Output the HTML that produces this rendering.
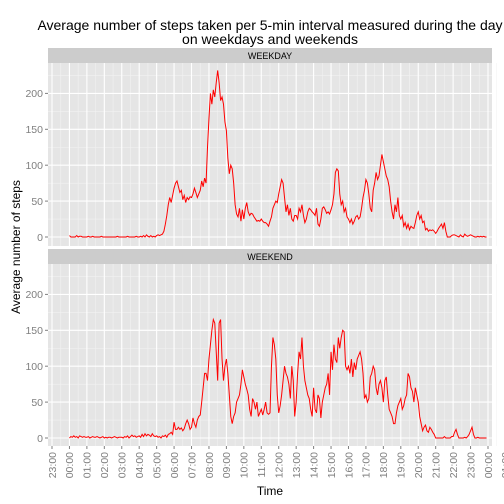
<!DOCTYPE html>
<html><head><meta charset="utf-8"><style>
html,body{margin:0;padding:0;background:#fff}
svg{display:block;font-family:"Liberation Sans",sans-serif}
</style></head><body>
<svg id="c" width="504" height="504" xmlns="http://www.w3.org/2000/svg">
<text x="270" y="30" text-anchor="middle" font-size="14" fill="#000">Average number of steps taken per 5-min interval measured during the day</text>
<text x="270" y="44" text-anchor="middle" font-size="14" fill="#000">on weekdays and weekends</text>
<text x="270" y="495" text-anchor="middle" font-size="12" fill="#000">Time</text>
<text transform="translate(20,247) rotate(-90)" text-anchor="middle" font-size="12" fill="#000">Average number of steps</text>
<g id="panels"></g>
</svg>
<script>
const facets = ["WEEKDAY","WEEKEND"];
const yTicks = [0,50,100,150,200];
const xTickLabels = ["23:00","00:00","01:00","02:00","03:00","04:00","05:00","06:00","07:00","08:00","09:00","10:00","11:00","12:00","13:00","14:00","15:00","16:00","17:00","18:00","19:00","20:00","21:00","22:00","23:00","00:00","01:00"];
const weekday = [
2,0,0,0,0,2,0,1,1,0,0,0,
0,1,0,0,1,0,0,0,0,0,1,0,
0,0,0,0,0,0,0,0,0,1,0,0,
0,0,0,0,1,0,0,0,0,0,1,0,
0,1,0,2,0,3,1,0,2,0,1,0,
2,3,2,3,4,8,18,30,45,55,48,58,
68,75,78,70,62,65,52,58,48,55,52,56,
55,60,68,62,55,60,65,78,70,82,75,125,
165,200,185,205,195,215,232,215,190,195,185,160,
148,110,88,100,95,75,45,32,28,40,22,38,
25,40,48,35,30,33,32,28,25,22,23,22,
25,22,20,20,18,15,22,28,40,45,50,48,
60,70,80,75,55,35,45,30,40,25,22,30,
30,25,40,35,45,30,20,25,35,40,38,35,
33,30,40,18,15,25,40,42,38,33,35,32,
38,45,60,90,95,92,60,45,50,35,40,28,
25,20,25,18,22,28,30,25,28,40,55,65,
80,75,60,40,35,65,75,90,80,85,100,115,
105,95,85,80,70,50,35,25,45,35,55,30,
25,30,15,20,12,18,10,15,13,12,20,30,
35,25,30,20,22,10,12,8,10,9,10,8,
5,8,12,15,18,12,20,8,0,0,0,2,
3,3,2,1,0,3,1,0,4,2,1,2,
3,2,1,0,0,1,0,1,0,1,0,0];
const weekend = [
0,2,1,3,1,2,0,3,2,1,2,1,
1,2,0,1,2,1,1,2,1,0,1,2,
0,1,0,1,1,0,1,2,1,0,1,1,
1,0,2,1,3,0,2,4,2,3,1,2,
3,1,5,2,6,3,5,4,2,6,3,2,
3,1,2,0,3,2,4,1,5,6,8,5,
22,12,12,15,12,14,10,13,20,25,20,12,
15,28,20,15,25,30,32,50,70,90,90,80,
110,130,150,165,160,120,80,160,165,110,80,100,
110,90,60,30,20,30,35,50,55,60,75,95,
85,75,68,60,40,30,55,50,40,50,30,35,
40,32,40,50,35,33,35,100,140,130,110,60,
35,45,60,80,100,90,85,75,55,100,80,30,
50,90,120,110,140,100,80,70,60,55,40,30,
70,40,35,60,55,28,50,60,70,75,90,60,
120,95,130,110,105,140,125,140,150,148,100,95,
100,90,110,85,105,95,110,115,120,110,90,55,
60,50,55,85,90,100,95,70,60,75,80,70,
50,80,85,60,40,35,30,20,20,35,45,50,
55,40,45,55,60,90,85,70,65,50,70,60,
50,30,20,10,15,18,10,8,15,12,8,5,
0,0,0,0,0,0,2,0,0,0,0,2,
2,8,12,5,0,0,0,0,1,0,2,5,
10,15,5,0,0,1,0,0,0,0,0,0];
const series = [weekday, weekend];

const NS="http://www.w3.org/2000/svg";
const g=document.getElementById('panels');
const PX0=48, PX1=492;
const tick0=52, tickStep=17.44;
function xScale(i){return tick0+tickStep+i*tickStep/12;}
function mk(tag,attrs,parent){const e=document.createElementNS(NS,tag);for(const k in attrs)e.setAttribute(k,attrs[k]);(parent||g).appendChild(e);return e;}
const panelTops=[63,264], panelBots=[246,446], zeroY=[237,438];
const k=0.718;
facets.forEach((f,p)=>{
  const top=panelTops[p], bot=panelBots[p];
  const yS=v=>zeroY[p]-v*k;
  const strip=mk('rect',{x:PX0,y:top-15,width:PX1-PX0,height:15,fill:'#cccccc'});
  
  
  const st=mk('text',{x:(PX0+PX1)/2,y:top-4,'text-anchor':'middle','font-size':'9',fill:'#000'});
  st.textContent=f;
  
  
  const bg=mk('rect',{x:PX0,y:top,width:PX1-PX0,height:bot-top,fill:'#e5e5e5'});
  
  
  for(let v=25;v<=225;v+=50){const y=yS(v);if(y>top)mk('line',{x1:PX0,x2:PX1,y1:y,y2:y,stroke:'#f2f2f2','stroke-width':0.6});}
  for(let t=0;t<xTickLabels.length-1;t++){const x=tick0+(t+0.5)*tickStep;mk('line',{x1:x,x2:x,y1:top,y2:bot,stroke:'#f2f2f2','stroke-width':0.6});}
  yTicks.forEach(v=>{const y=yS(v);mk('line',{x1:PX0,x2:PX1,y1:y,y2:y,stroke:'#fff','stroke-width':1.1});
    mk('line',{x1:PX0-3,x2:PX0,y1:y,y2:y,stroke:'#7f7f7f','stroke-width':1});
    const t=mk('text',{x:PX0-5,y:y+3.8,'text-anchor':'end','font-size':'10.5',fill:'#7f7f7f'});t.textContent=v;
    
    });
  xTickLabels.forEach((l,t)=>{const x=tick0+t*tickStep;mk('line',{x1:x,x2:x,y1:top,y2:bot,stroke:'#fff','stroke-width':1.1});});
  const pts=series[p].map((v,i)=>xScale(i).toFixed(2)+','+yS(v).toFixed(2)).join(' ');
  const line=mk('polyline',{points:pts,fill:'none',stroke:'#ff0000','stroke-width':1});
  
  
});
xTickLabels.forEach((l,t)=>{const x=tick0+t*tickStep;
  mk('line',{x1:x,x2:x,y1:446,y2:449,stroke:'#7f7f7f','stroke-width':1});
  const tx=mk('text',{transform:`translate(${x+3.8},452) rotate(-90)`,'text-anchor':'end','font-size':'10.5',fill:'#7f7f7f'});
  tx.textContent=l;
  
  
});
</script>
</body></html>
